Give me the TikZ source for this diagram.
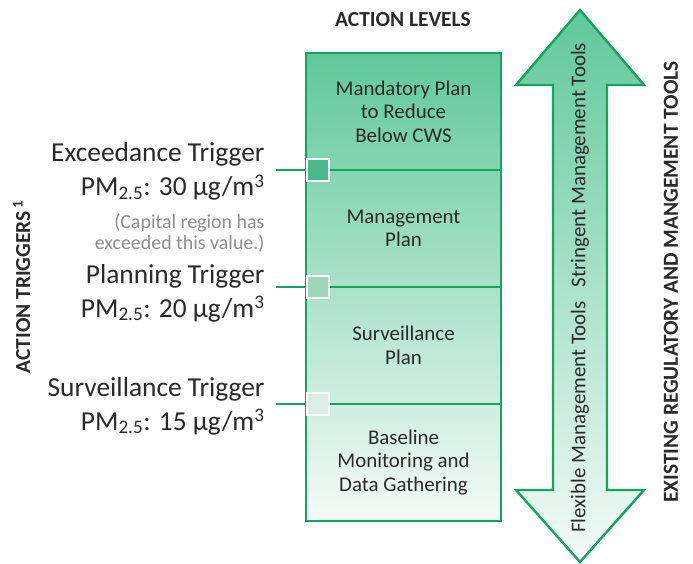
\documentclass[tikz,border=0pt]{standalone}
\usepackage{fontspec}
\setmainfont{Carlito}
\usetikzlibrary{positioning}

\definecolor{lvgreen}{HTML}{13A55C}
\definecolor{lvtop}{HTML}{60C89B}
\definecolor{lvbot}{HTML}{F5FBF8}
\definecolor{txtdark}{HTML}{2A2A2A}
\definecolor{notegray}{HTML}{8E8E8E}
\definecolor{sqexc}{HTML}{4AB98A}
\definecolor{sqplan}{HTML}{9FD6BA}
\definecolor{sqsurv}{HTML}{DDEFE4}

\begin{document}
\begin{tikzpicture}[x=1bp,y=-1bp,
  level/.style={draw=lvgreen,line width=2.4bp,outer sep=0pt,minimum width=195bp,minimum height=117bp,
    align=center,text=txtdark,font=\fontsize{21}{23.5}\selectfont},
  trigtext/.style={anchor=base east,text=txtdark,font=\fontsize{27.5}{30}\selectfont},
  trignote/.style={anchor=base east,align=right,text=notegray,font=\fontsize{20}{21}\selectfont},
  trigsq/.style={draw=white,line width=2bp,minimum size=22bp,inner sep=0pt,anchor=west},
  trigline/.style={draw=lvgreen,line width=2.4bp},
  arrowtext/.style={rotate=90,text=txtdark,font=\fontsize{21}{22}\selectfont},
  header/.style={text=txtdark,font=\bfseries\fontsize{21.5}{23}\selectfont}]

\useasboundingbox (0,0) rectangle (693,564);

%Action levels
\shade[top color=lvtop,bottom color=lvbot] (306,53) rectangle (501,521);
\node[level] (mand) at (403.5,111.5) {Mandatory Plan\\to Reduce\\Below CWS};
\node[level,below=0pt of mand] (mgmt) {Management\\Plan};
\node[level,below=0pt of mgmt] (surv) {Surveillance\\Plan};
\node[level,below=0pt of surv] (base) {Baseline\\Monitoring and\\Data Gathering};
\node[header] (levels) at (403,20) {ACTION LEVELS};

%Triggers
\coordinate (excend) at ([xshift=-30bp]mand.south west);
\coordinate (planend) at ([xshift=-30bp]mgmt.south west);
\coordinate (survend) at ([xshift=-30bp]surv.south west);
\draw[trigline] (excend) -- (mand.south west);
\draw[trigline] (planend) -- (mgmt.south west);
\draw[trigline] (survend) -- (surv.south west);
\node[trigsq,fill=sqexc] (excsq) at (mand.south west) {};
\node[trigsq,fill=sqplan] (plansq) at (mgmt.south west) {};
\node[trigsq,fill=sqsurv] (survsq) at (surv.south west) {};

\node[trigtext] (exc) at (268,162) {Exceedance Trigger};
\node[trigtext] (excpm) at (268,196) {PM\textsubscript{2.5}: 30 µg/m\textsuperscript{3}};
\node[trignote] (excnote) at (268,249) {(Capital region has\\exceeded this value.)};
\node[trigtext] (plan) at (268,283) {Planning Trigger};
\node[trigtext] (planpm) at (268,317) {PM\textsubscript{2.5}: 20 µg/m\textsuperscript{3}};
\node[trigtext] (surv) at (268,396) {Surveillance Trigger};
\node[trigtext] (survpm) at (268,430) {PM\textsubscript{2.5}: 15 µg/m\textsuperscript{3}};
\node[header,rotate=90] (trig) at (21.5,287) {ACTION TRIGGERS\textsuperscript{\,1}};

%Tools arrow
\shadedraw[top color=lvtop,bottom color=lvbot,draw=lvgreen,line width=2.4bp]
  (580,10) -- (644,85) -- (607,85) -- (607,490) -- (644,490) -- (580,562)
  -- (516,490) -- (553,490) -- (553,85) -- (516,85) -- cycle;
\node[arrowtext] (stringent) at (580,165) {Stringent Management Tools};
\node[arrowtext] (flexible) at (580,417) {Flexible Management Tools};
\node[header,rotate=90] (tools) at (671,282) {EXISTING REGULATORY AND MANGEMENT TOOLS};
\end{tikzpicture}
\end{document}
